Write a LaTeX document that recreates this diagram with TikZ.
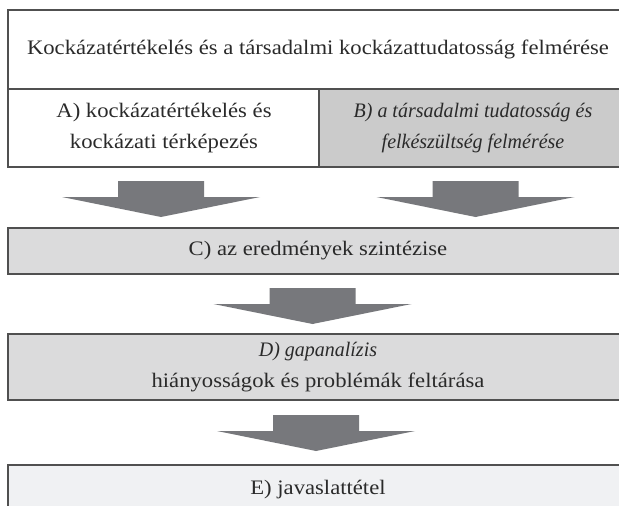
\documentclass[tikz,border=0pt]{standalone}
\usepackage{fontspec}
\setmainfont[FakeStretch=1.1]{Liberation Serif}
\newfontfamily\narrowit[FakeStretch=0.97]{Liberation Serif}
\definecolor{bordergray}{HTML}{505050}
\definecolor{arrowgray}{HTML}{77787C}
\definecolor{textgray}{HTML}{2A2A2A}
\definecolor{fillB}{HTML}{CBCBCB}
\definecolor{fillC}{HTML}{DBDBDC}
\definecolor{fillE}{HTML}{F0F1F3}
\begin{document}
\begin{tikzpicture}[x=1pt,y=-1pt,
  box/.style={draw=bordergray,line width=1.4pt,inner sep=0pt,outer sep=0pt},
  lbl/.style={font=\fontsize{20.6}{31}\selectfont,align=center,text=textgray},
  pics/bigarr/.style={code={\fill[arrowgray] (-43,0) -- (43,0) -- (43,16) -- (99,16) -- (0,36) -- (-99,16) -- (-43,16) -- cycle;}}]
\useasboundingbox (0,0) rectangle (619,506);
\clip (0,0) rectangle (619,506);
\fill[white] (0,0) rectangle (619,506);
% boxes
\node[box,lbl,fill=white,minimum width=620pt,minimum height=79pt] (top) at (318,49.5)
  {Kockázatértékelés és a társadalmi kockázattudatosság felmérése};
\node[box,lbl,fill=white,minimum width=312pt,minimum height=78pt] (A) at (164,128)
  {A) kockázatértékelés és\\kockázati térképezés};
\node[box,lbl,fill=fillB,minimum width=308pt,minimum height=78pt] (B) at (473,128)
  {\narrowit\itshape B) a társadalmi tudatosság és\\\narrowit\itshape felkészültség felmérése};
\node[box,lbl,fill=fillC,minimum width=620pt,minimum height=46pt] (C) at (318,251)
  {C) az eredmények szintézise};
\node[box,lbl,fill=fillC,minimum width=620pt,minimum height=66pt] (D) at (318,367)
  {{\narrowit\itshape D) gapanalízis}\\hiányosságok és problémák feltárása};
\node[box,lbl,fill=fillE,minimum width=620pt,minimum height=50pt] (E) at (318,490)
  {E) javaslattétel};
% arrows
\pic (arrA) at (161,181) {bigarr};
\pic (arrB) at (475.5,181) {bigarr};
\pic (arrC) at (312.5,288) {bigarr};
\pic (arrD) at (316,415) {bigarr};
\end{tikzpicture}
\end{document}
